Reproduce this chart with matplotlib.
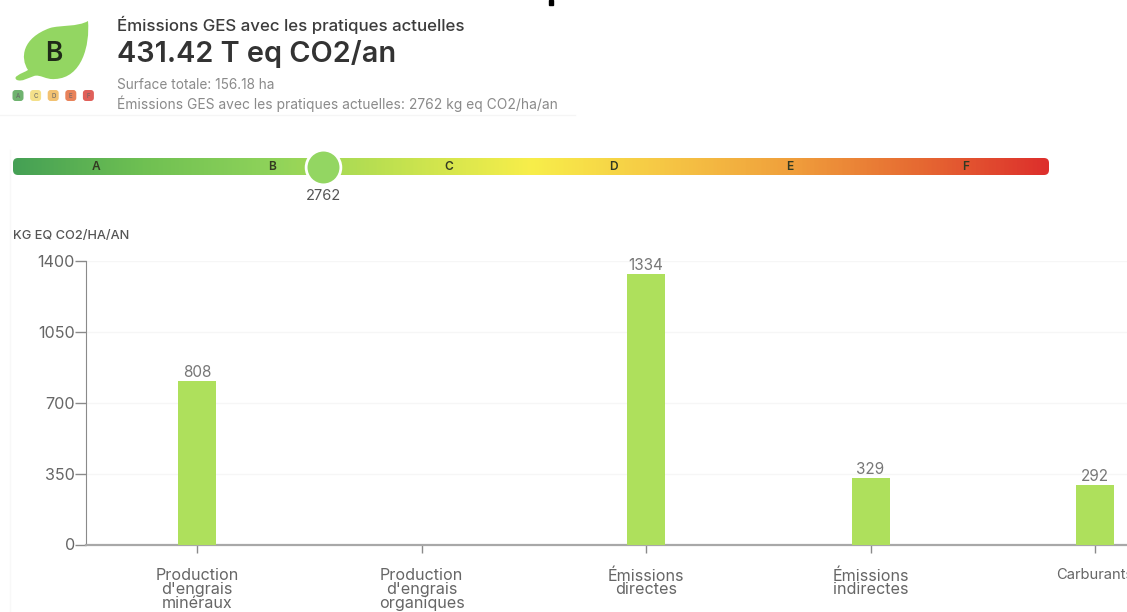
import numpy as np
import matplotlib
matplotlib.use("Agg")
import matplotlib.pyplot as plt
from matplotlib.colors import LinearSegmentedColormap
from matplotlib.patches import PathPatch, FancyBboxPatch, Rectangle
from matplotlib.path import Path

plt.rcParams['font.family'] = ['Inter', 'DejaVu Sans']

categories = ["Production\nd'engrais\nminéraux", "Production\nd'engrais\norganiques",
              "Émissions\ndirectes", "Émissions\nindirectes", "Carburants"]
values = [808, 0, 1334, 329, 292]
value_labels = ['808', '', '1334', '329', '292']
y_ticks = [0, 350, 700, 1050, 1400]
gauge_value = 2762
gauge_max = 9231
gauge_letters = ['A', 'B', 'C', 'D', 'E', 'F']
gauge_letter_values = [740, 2310, 3880, 5350, 6920, 8490]
gauge_colors = ['#45a055', '#6fc052', '#8fd35a', '#c4e24f', '#f8ee4a', '#f6c845', '#f0a03c', '#e66a32', '#dd2f2c']
badge_letters = ['A', 'C', 'D', 'E', 'F']
badge_colors = ['#6fb36f', '#f4e08a', '#f2c272', '#e8825a', '#e0605a']

W, H = 1127, 612
fig = plt.figure(figsize=(W / 100, H / 100), dpi=100, facecolor='white')

def px_axes(x0, y0, x1, y1, **kw):
    return fig.add_axes([x0 / W, 1 - y1 / H, (x1 - x0) / W, (y1 - y0) / H], **kw)

# overlay in pixel space for the header decoration
ov = fig.add_axes([0, 0, 1, 1], zorder=0)
ov.set_xlim(0, W); ov.set_ylim(H, 0); ov.axis('off')
ov.add_patch(Rectangle((549, 0), 4, 5, color='black'))
ov.plot([0, 575], [115, 115], color='#f5f5f5', lw=1)
ov.plot([10, 10], [150, 612], color='#f8f8f8', lw=1)

leaf = [(17, 76), (21, 73), (25, 72), (28, 70),
        (20, 58), (22, 38), (50, 28),
        (60, 25), (78, 27), (88, 21),
        (90, 45), (82, 78), (55, 79),
        (46, 80), (40, 74), (34, 76),
        (28, 78), (22, 82), (17, 80),
        (15, 79), (15, 77), (17, 76)]
leaf_codes = [Path.MOVETO] + [Path.CURVE4] * 21
ov.add_patch(PathPatch(Path(leaf, leaf_codes), fc='#93d662', ec='none'))
ov.text(54, 54, 'B', fontsize=19, fontweight='semibold', color='#1f2a18', ha='center', va='center')
for i, (b, c) in enumerate(zip(badge_letters, badge_colors)):
    bx = 18 + 17.6 * i
    ov.add_patch(FancyBboxPatch((bx - 5.5, 90), 11, 11, boxstyle='round,pad=0,rounding_size=3', fc=c, ec='none'))
    ov.text(bx, 95.5, b, fontsize=4.5, color='#666666', ha='center', va='center')

ov.text(117, 25, 'Émissions GES avec les pratiques actuelles', fontsize=12.15, fontweight='medium',
        color='#3c3c3c', va='center')
ov.text(117, 53.5, '431.42 T eq CO2/an', fontsize=20.8, fontweight='semibold', color='#333333', va='center')
ov.text(117, 85, 'Surface totale: 156.18 ha', fontsize=9.8, color='#8a8a8a', va='center')
ov.text(117, 103.5, 'Émissions GES avec les pratiques actuelles: 2762 kg eq CO2/ha/an', fontsize=9.95,
        color='#8a8a8a', va='center')
ov.text(13, 236, 'KG EQ CO2/HA/AN', fontsize=9.2, fontweight='medium', color='#555555', va='center')

# gauge
cmap = LinearSegmentedColormap.from_list('g', gauge_colors)
ga = px_axes(13, 147, 1049, 188, zorder=2)
ga.set_xlim(0, gauge_max); ga.set_ylim(1, 0); ga.axis('off')
y0, y1 = (158 - 147) / 41, (175 - 147) / 41
im = ga.imshow(np.linspace(0, 1, 512)[None, :], cmap=cmap, aspect='auto', extent=[0, gauge_max, y1, y0], zorder=1)
clip = FancyBboxPatch((13, 158), 1036, 17, boxstyle='round,pad=0,rounding_size=5', transform=ov.transData, fc='none', ec='none')
ov.add_patch(clip); im.set_clip_path(clip)
ga.set_xlim(0, gauge_max); ga.set_ylim(1, 0)
for letter, v in zip(gauge_letters, gauge_letter_values):
    ga.text(v, (y0 + y1) / 2 + 0.02, letter, fontsize=8.6, fontweight='semibold', color='#333a22', ha='center', va='center', zorder=3)
ga.plot([gauge_value], [(y0 + y1) / 2], 'o', ms=25, mfc='#93d662', mec='white', mew=2, zorder=4, clip_on=False)
ga.text(gauge_value, 1.19, str(gauge_value), fontsize=10.5, color='#555555', ha='center', va='center', clip_on=False)

# bars
ax = px_axes(86, 261, W, 544.5, zorder=1)
ax.patch.set_alpha(0)
x = np.arange(len(categories))
ax.bar(x, values, width=38 / 224.5, color='#aee05c', zorder=3)
ax.set_xlim((86 - 197) / 224.5, (W - 197) / 224.5)
ax.set_ylim(0, 1400)
ax.set_yticks(y_ticks)
ax.set_xticks(x, categories)
ax.grid(axis='y', color='#f6f6f6', lw=1, zorder=0)
for s in ['top', 'right']:
    ax.spines[s].set_visible(False)
ax.spines['left'].set_color('#8a8a8a')
ax.spines['bottom'].set_color('#a8a8a8')
ax.spines['bottom'].set_linewidth(1.6)
ax.tick_params(axis='y', length=8, width=1, color='#8a8a8a', labelcolor='#666666', labelsize=11.6, pad=0)
ax.tick_params(axis='x', length=6, width=1, color='#8a8a8a', labelcolor='#666666', labelsize=11.6, pad=11)
for lab in ax.get_xticklabels():
    lab.set_linespacing(0.9)
ax.get_xticklabels()[-1].set_fontsize(10.6)
for xi, v, t in zip(x, values, value_labels):
    ax.text(xi, v + 6, t, fontsize=11, color='#777777', ha='center', va='bottom', zorder=4, clip_on=False)

fig.savefig('out.png', dpi=100)
